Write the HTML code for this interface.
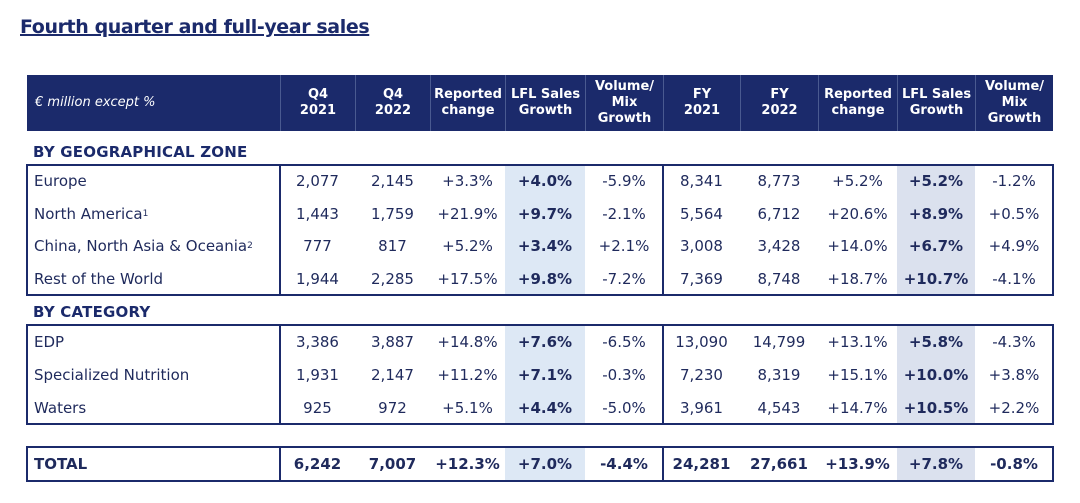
<!DOCTYPE html>
<html><head><meta charset="utf-8">
<style>
body{margin:0;width:1080px;height:503px;background:#fff;position:relative;overflow:hidden;font-family:"DejaVu Sans","Liberation Sans",sans-serif;color:#1f2a5c}
.a{position:absolute;box-sizing:border-box}
.c{display:flex;align-items:center;justify-content:center;text-align:center}
#title{left:20px;top:16px;font-size:19px;font-weight:bold;color:#1b2a6b;text-decoration:underline;text-decoration-thickness:2px;white-space:nowrap;letter-spacing:-0.4px}
.hd{background:#1b2a6b;color:#fff;font-size:13px;font-weight:bold;line-height:16px;border-left:1px solid #4a5a90}
.cell{font-size:15px;white-space:nowrap}
.box{border:2px solid #1b2a6b}
.sec{font-size:15px;font-weight:bold;color:#1b2a6b;letter-spacing:0.2px}
sup{font-size:9px;vertical-align:6px}
</style></head><body>
<div id="title" class="a">Fourth quarter and full-year sales</div>
<div id="t"></div>
<script>
const cols=[27,280,355,430,505,585,663,740,818,897,975,1053];
const headers=["Q4<br>2021","Q4<br>2022","Reported<br>change","LFL Sales<br>Growth","Volume/<br>Mix<br>Growth","FY<br>2021","FY<br>2022","Reported<br>change","LFL Sales<br>Growth","Volume/<br>Mix<br>Growth"];
const geoLabels=["Europe","North America<sup>1</sup>","China, North Asia &amp; Oceania<sup>2</sup>","Rest of the World"];
const geoValues=[
["2,077","2,145","+3.3%","+4.0%","-5.9%","8,341","8,773","+5.2%","+5.2%","-1.2%"],
["1,443","1,759","+21.9%","+9.7%","-2.1%","5,564","6,712","+20.6%","+8.9%","+0.5%"],
["777","817","+5.2%","+3.4%","+2.1%","3,008","3,428","+14.0%","+6.7%","+4.9%"],
["1,944","2,285","+17.5%","+9.8%","-7.2%","7,369","8,748","+18.7%","+10.7%","-4.1%"]];
const catLabels=["EDP","Specialized Nutrition","Waters"];
const catValues=[
["3,386","3,887","+14.8%","+7.6%","-6.5%","13,090","14,799","+13.1%","+5.8%","-4.3%"],
["1,931","2,147","+11.2%","+7.1%","-0.3%","7,230","8,319","+15.1%","+10.0%","+3.8%"],
["925","972","+5.1%","+4.4%","-5.0%","3,961","4,543","+14.7%","+10.5%","+2.2%"]];
const totalLabel=["TOTAL"];
const totalValues=[["6,242","7,007","+12.3%","+7.0%","-4.4%","24,281","27,661","+13.9%","+7.8%","-0.8%"]];
const root=document.getElementById('t');
function mk(cls,x,y,w,h,html,style){const d=document.createElement('div');d.className='a '+cls;d.style.cssText=`left:${x}px;top:${y}px;width:${w}px;height:${h}px;`+(style||'');d.innerHTML=html;root.appendChild(d);return d;}
let h=mk('hd',cols[0],75,cols[1]-cols[0],56,'€ million except %','display:flex;align-items:center;padding-left:8px;font-weight:normal;font-style:italic;font-size:13px;border-left:none');


headers.forEach((t,i)=>{const e=mk('hd c',cols[i+1],75,cols[i+2]-cols[i+1],56,t);

});
function section(title,ty,labels,vals,y0,rh,bold,name){
 if(title){const s=mk('sec',33,ty,300,20,title);
 
 }
 const H=labels.length*rh;
 [3,8].forEach(k=>{const bg=mk('',cols[k+1],y0,cols[k+2]-cols[k+1],H,'',`background:${k==3?'#dde8f5':'#dbe1ee'}`);
 
 });
 labels.forEach((l,r)=>{const y=y0+r*rh;
  const lc=mk('cell',cols[0]+7,y,250,rh,l,`display:flex;align-items:center;${bold?'font-weight:bold':''}`);
  
  
  vals[r].forEach((v,i)=>{const b=bold||i==3||i==8;const e=mk('cell c',cols[i+1],y,cols[i+2]-cols[i+1],rh,v,b?'font-weight:bold':'');
  
  });
 });
 [[cols[0],cols[1]],[cols[1],cols[6]],[cols[6],cols[11]]].forEach(([a,b])=>{const bx=mk('box',a-1,y0-1,b-a+2,H+2,'');
 
 });
}
section('BY GEOGRAPHICAL ZONE',143,geoLabels,geoValues,165,32.5,false,'geo');
section('BY CATEGORY',303,catLabels,catValues,325,33,false,'category');
section(null,0,totalLabel,totalValues,447,34,true,'total');
</script>
</body></html>
